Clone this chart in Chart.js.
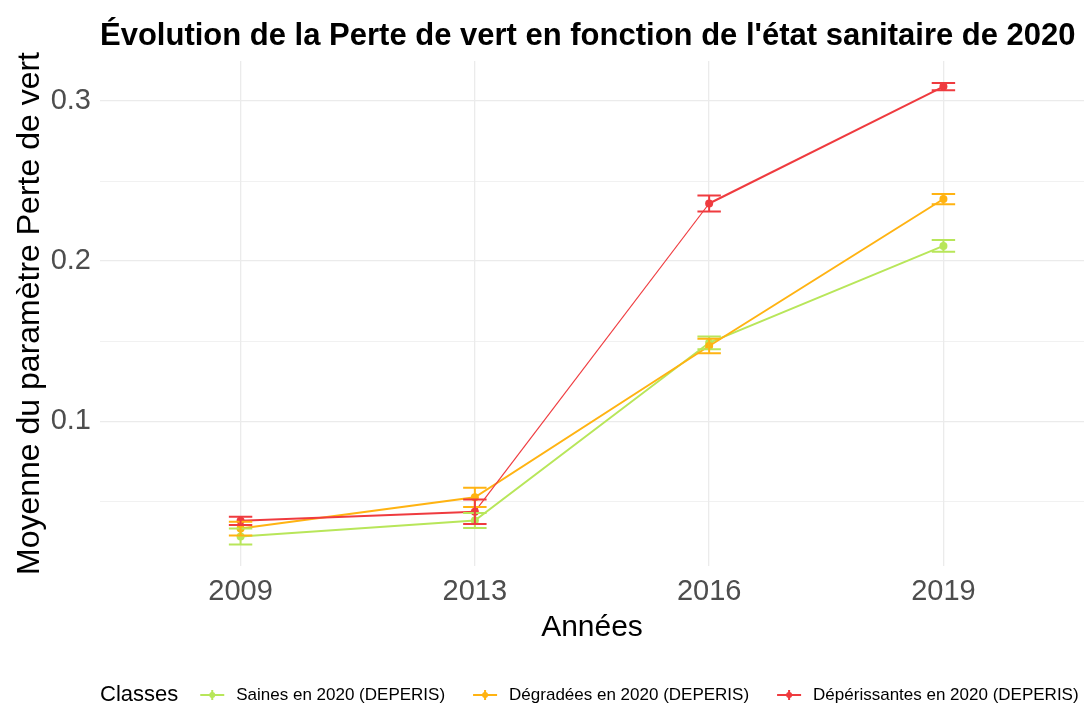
<!DOCTYPE html>
<html>
<head>
<meta charset="utf-8">
<script src="https://cdn.jsdelivr.net/npm/chart.js@4.4.0/dist/chart.umd.min.js"></script>
<style>
  html, body { margin: 0; padding: 0; background: #fff; }
</style>
</head>
<body>
<canvas id="chart" width="1088" height="707"></canvas>
<script>
const annees = ['2009', '2013', '2016', '2019'];

const saines = [0.028, 0.038, 0.149, 0.2095];
const sainesErr = [0.005, 0.0047, 0.004, 0.0037];

const degradees = [0.033, 0.0525, 0.147, 0.2388];
const degradeesErr = [0.0043, 0.006, 0.0045, 0.0032];

const deperissantes = [0.0378, 0.0435, 0.236, 0.309];
const deperissantesErr = [0.0026, 0.0077, 0.005, 0.0023];

const yTicks = [0.05, 0.1, 0.15, 0.2, 0.25, 0.3];

const FONT = "'Liberation Sans', Arial, sans-serif";
const VERT = '#b8e65a';
const ORANGE = '#ffb312';
const ROUGE = '#ef3b3f';

const isMajor = v => Math.abs(v * 10 - Math.round(v * 10)) < 1e-6;

function serie(label, values, errs, color, order) {
  return {
    label: label,
    data: values.map((v, i) => ({ x: i, y: v })),
    erreurs: errs,
    borderColor: color,
    backgroundColor: color,
    borderWidth: 2,
    pointRadius: 4,
    pointBorderWidth: 0,
    tension: 0,
    order: order
  };
}

// error bars, drawn with the chart scales
const errorBars = {
  id: 'errorBars',
  afterDatasetsDraw(chart) {
    const { ctx, scales: { x, y } } = chart;
    const metas = chart.getSortedVisibleDatasetMetas().slice().reverse();
    metas.forEach(meta => {
      const ds = chart.data.datasets[meta.index];
      ctx.save();
      ctx.strokeStyle = ds.borderColor;
      ctx.lineWidth = 2;
      ds.data.forEach((p, i) => {
        const e = ds.erreurs[i];
        const xc = x.getPixelForValue(p.x);
        const x0 = x.getPixelForValue(p.x - 0.05);
        const x1 = x.getPixelForValue(p.x + 0.05);
        const yLo = y.getPixelForValue(p.y - e);
        const yHi = y.getPixelForValue(p.y + e);
        ctx.beginPath();
        ctx.moveTo(xc, yLo); ctx.lineTo(xc, yHi);
        ctx.moveTo(x0, yLo); ctx.lineTo(x1, yLo);
        ctx.moveTo(x0, yHi); ctx.lineTo(x1, yHi);
        ctx.stroke();
      });
      ctx.restore();
    });
  }
};

// ggplot style legend at the bottom: "Classes" then the keys on one line
const bottomLegend = {
  id: 'bottomLegend',
  afterDraw(chart) {
    const ctx = chart.ctx;
    const yMid = 695;
    let xPos = 100;
    ctx.save();
    ctx.textBaseline = 'middle';
    ctx.fillStyle = '#000';
    ctx.font = '22px ' + FONT;
    ctx.fillText('Classes', xPos, yMid);
    xPos += ctx.measureText('Classes').width + 22;
    ctx.font = '17px ' + FONT;
    chart.data.datasets.forEach(ds => {
      ctx.strokeStyle = ds.borderColor;
      ctx.fillStyle = ds.borderColor;
      ctx.lineWidth = 2;
      ctx.beginPath();
      ctx.moveTo(xPos, yMid); ctx.lineTo(xPos + 24, yMid);
      ctx.moveTo(xPos + 12, yMid - 5); ctx.lineTo(xPos + 12, yMid + 5);
      ctx.stroke();
      ctx.beginPath();
      ctx.arc(xPos + 12, yMid, 3, 0, Math.PI * 2);
      ctx.fill();
      xPos += 24 + 12;
      ctx.fillStyle = '#000';
      ctx.fillText(ds.label, xPos, yMid);
      xPos += ctx.measureText(ds.label).width + 28;
    });
    ctx.restore();
  }
};

const datasets = [
  serie('Saines en 2020 (DEPERIS)', saines, sainesErr, VERT, 3),
  serie('Dégradées en 2020 (DEPERIS)', degradees, degradeesErr, ORANGE, 2),
  serie('Dépérissantes en 2020 (DEPERIS)', deperissantes, deperissantesErr, ROUGE, 1)
];
datasets[2].segment = { borderWidth: c => (c.p0DataIndex === 1 ? 1.2 : 2) };

new Chart(document.getElementById('chart'), {
  type: 'line',
  data: { datasets: datasets },
  plugins: [errorBars, bottomLegend],
  options: {
    responsive: false,
    animation: false,
    layout: { padding: { top: 0, right: 3, bottom: 61, left: 0 } },
    plugins: {
      legend: { display: false },
      tooltip: { enabled: false },
      title: {
        display: true,
        text: "Évolution de la Perte de vert en fonction de l'état sanitaire de 2020",
        fullSize: false,
        align: 'start',
        color: '#000',
        font: { family: FONT, size: 31, weight: 'bold', lineHeight: 1.2 },
        padding: { top: 17.7, bottom: 6.1 }
      }
    },
    scales: {
      x: {
        type: 'linear',
        min: -0.6,
        max: 3.6,
        afterBuildTicks: s => { s.ticks = annees.map((_, i) => ({ value: i })); },
        afterFit: s => { s.height = 80; },
        ticks: {
          callback: v => annees[v],
          color: '#4d4d4d',
          font: { family: FONT, size: 29 },
          padding: 9,
          maxRotation: 0,
          autoSkip: false
        },
        grid: { color: '#ebebeb', lineWidth: 1.3, drawTicks: false },
        border: { display: false },
        title: {
          display: true,
          text: 'Années',
          color: '#000',
          font: { family: FONT, size: 30, lineHeight: 1.2 },
          padding: { top: 0, bottom: 0 }
        }
      },
      y: {
        min: 0.0096,
        max: 0.325,
        afterBuildTicks: s => { s.ticks = yTicks.map(v => ({ value: v })); },
        afterFit: s => { s.width = 100; },
        ticks: {
          callback: v => (isMajor(v) ? v.toFixed(1) : ''),
          color: '#4d4d4d',
          font: { family: FONT, size: 29 },
          padding: 9
        },
        grid: {
          color: '#ebebeb',
          lineWidth: c => (isMajor(c.tick.value) ? 1.3 : 0.7),
          drawTicks: false
        },
        border: { display: false },
        title: {
          display: true,
          text: 'Moyenne du paramètre Perte de vert',
          color: '#000',
          font: { family: FONT, size: 32, lineHeight: 1.2 },
          padding: { top: 11, bottom: 0 }
        }
      }
    }
  }
});
</script>
</body>
</html>
